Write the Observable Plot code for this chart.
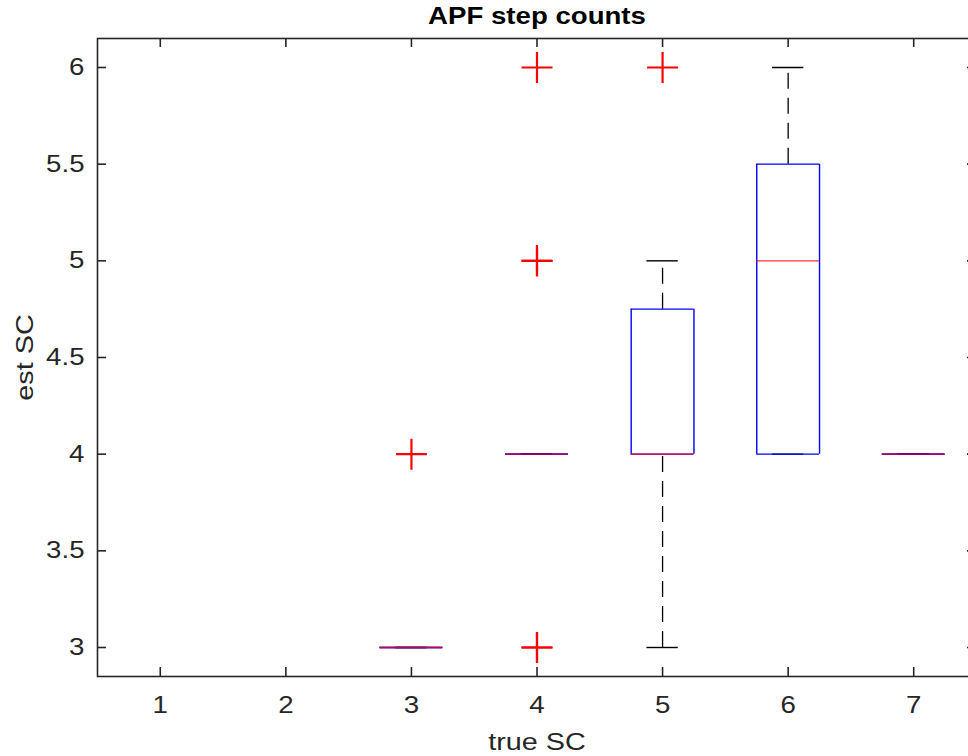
<!DOCTYPE html>
<html><head><meta charset="utf-8">
<script src="https://cdn.jsdelivr.net/npm/d3@7"></script>
<script src="https://cdn.jsdelivr.net/npm/@observablehq/plot@0.6"></script>
<style>body{margin:0;background:#fff;overflow:hidden} svg{display:block}</style>
</head><body><div id="chart"></div>
<script>
// Box statistics per category (true SC)
const groups  = [3, 4, 5, 6, 7];
const q1      = [3, 4, 4, 4, 4];
const medians = [3, 4, 4, 5, 4];
const q3      = [3, 4, 4.75, 5.5, 4];
const whiskLo = [3, 4, 3, 4, 4];
const whiskHi = [3, 4, 5, 6, 4];
// Outliers
const outlierGroup = [3, 4, 4, 4, 4, 4, 5];
const outlierValue = [4, 6, 5, 5, 3, 3, 6];
// Ticks
const xTicks = [1, 2, 3, 4, 5, 6, 7];
const yTicks = [3, 3.5, 4, 4.5, 5, 5.5, 6];

const boxes = groups.map((g, i) => ({g, q1: q1[i], med: medians[i], q3: q3[i], lo: whiskLo[i], hi: whiskHi[i]}));
const outliers = outlierGroup.map((g, i) => ({g, v: outlierValue[i]}));

const W = 968, H = 756, mT = 38, mB = 80, mL = 97, mR = -8;
const innerH = H - mT - mB, innerW = W - mL - mR;
const TL = 9;
const font = "Liberation Sans, Arial, Helvetica, sans-serif";
const ink = "#262626";
const half = 0.25, capHalf = 0.125;

const chart = Plot.plot({
  width: W, height: H,
  marginTop: mT, marginBottom: mB, marginLeft: mL, marginRight: mR,
  style: {fontFamily: font, background: "#fff", color: ink, overflow: "hidden"},
  x: {domain: [0.5, 7.5], axis: null},
  y: {domain: [2.85, 6.15], axis: null},
  marks: [
    // whiskers (dashed)
    Plot.ruleX(boxes.filter(d => d.hi > d.q3), {x: "g", y1: "q3", y2: "hi", stroke: "#000", strokeWidth: 1.3, strokeDasharray: "16,9"}),
    Plot.ruleX(boxes.filter(d => d.lo < d.q1), {x: "g", y1: "lo", y2: "q1", stroke: "#000", strokeWidth: 1.3, strokeDasharray: "16,9"}),
    // caps
    Plot.ruleY(boxes, {y: "hi", x1: d => d.g - capHalf, x2: d => d.g + capHalf, stroke: "#000", strokeWidth: 1.4}),
    Plot.ruleY(boxes, {y: "lo", x1: d => d.g - capHalf, x2: d => d.g + capHalf, stroke: "#000", strokeWidth: 1.4}),
    // box edges
    Plot.ruleY(boxes, {y: "q1", x1: d => d.g - half, x2: d => d.g + half, stroke: "#0000ff", strokeWidth: 1.4}),
    Plot.ruleY(boxes, {y: "q3", x1: d => d.g - half, x2: d => d.g + half, stroke: "#0000ff", strokeWidth: 1.4}),
    Plot.ruleX(boxes, {x: d => d.g - half, y1: "q1", y2: "q3", stroke: "#0000ff", strokeWidth: 1.4}),
    Plot.ruleX(boxes, {x: d => d.g + half, y1: "q1", y2: "q3", stroke: "#0000ff", strokeWidth: 1.4}),
    // medians
    Plot.ruleY(boxes, {y: "med", x1: d => d.g - half, x2: d => d.g + half, stroke: "#ff0000", strokeOpacity: 0.8, strokeWidth: 1.4}),
    // outliers
    Plot.dot(outliers, {x: "g", y: "v", symbol: "plus", stroke: "#ff0000", r: 10, strokeWidth: 2.2}),
    // frame and inward ticks
    Plot.frame({stroke: ink, strokeWidth: 1.6}),
    Plot.tickX(xTicks, {x: d => d, insetTop: innerH - TL, stroke: ink, strokeWidth: 1.6}),
    Plot.tickX(xTicks, {x: d => d, insetBottom: innerH - TL, stroke: ink, strokeWidth: 1.6}),
    Plot.tickY(yTicks, {y: d => d, insetRight: innerW - TL, stroke: ink, strokeWidth: 1.6}),
    Plot.tickY(yTicks, {y: d => d, insetLeft: innerW - TL, stroke: ink, strokeWidth: 1.6}),
    // tick labels
    Plot.axisX(xTicks, {anchor: "bottom", tickSize: 0, tickPadding: 20, fontSize: 23, fill: ink, label: null, tickFormat: d => String(d)}),
    Plot.axisY(yTicks, {anchor: "left", tickSize: 0, tickPadding: 13, fontSize: 23, fill: ink, label: null, tickFormat: d => String(d)}),
    // title and axis labels
    Plot.text(["APF step counts"], {frameAnchor: "top", dy: -22, fontSize: 23, fontWeight: "bold", fill: "#000", lineAnchor: "middle", textAnchor: "middle"}),
    Plot.text(["true SC"], {frameAnchor: "bottom", dy: 66, fontSize: 24, fill: ink, lineAnchor: "middle", textAnchor: "middle"}),
    Plot.text(["est SC"], {frameAnchor: "left", dx: -72, rotate: -90, fontSize: 24, fill: ink, lineAnchor: "middle", textAnchor: "middle"})
  ]
});
document.getElementById("chart").appendChild(chart);
// the reference typeface is set wider than Arial: stretch glyphs horizontally
chart.querySelectorAll("text").forEach(t => {
  const len = t.getComputedTextLength();
  if (len > 0) {
    t.setAttribute("textLength", (len * 1.2).toFixed(1));
    t.setAttribute("lengthAdjust", "spacingAndGlyphs");
  }
});
</script>
</body></html>
